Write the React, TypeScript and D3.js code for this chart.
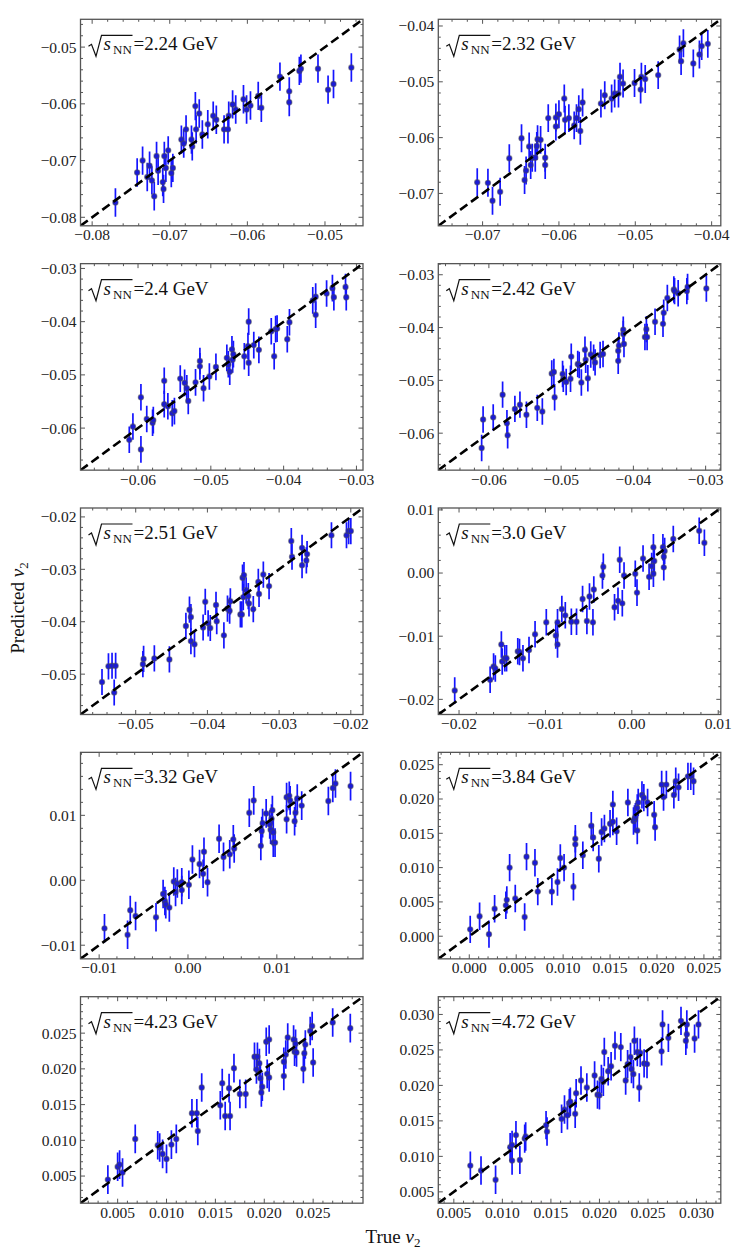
import * as d3 from 'd3'

// sqrt(s_NN) of each panel, read left-to-right, top-to-bottom
const energies = ['2.24', '2.32', '2.4', '2.42', '2.51', '3.0', '3.32', '3.84', '4.23', '4.72']

// shared x/y limits of each panel (the y = x line runs corner to corner)
const axisLimits: [number, number][] = [
  [-0.0815, -0.0451], [-0.0758, -0.0388], [-0.0679, -0.0291], [-0.067, -0.0279], [-0.0577, -0.0183],
  [-0.0224, 0.0103], [-0.0121, 0.0197], [-0.0033, 0.0268], [0.0012, 0.0301], [0.0034, 0.0325],
]

const tickValues: number[][] = [
  [-0.08, -0.07, -0.06, -0.05],
  [-0.07, -0.06, -0.05, -0.04],
  [-0.06, -0.05, -0.04, -0.03],
  [-0.06, -0.05, -0.04, -0.03],
  [-0.05, -0.04, -0.03, -0.02],
  [-0.02, -0.01, 0, 0.01],
  [-0.01, 0, 0.01],
  [0, 0.005, 0.01, 0.015, 0.02, 0.025],
  [0.005, 0.01, 0.015, 0.02, 0.025],
  [0.005, 0.01, 0.015, 0.02, 0.025, 0.03],
]
const tickStep = [0.01, 0.01, 0.01, 0.01, 0.01, 0.01, 0.01, 0.005, 0.005, 0.005]

// half-length of the error bars per panel
const yErr = [0.0025, 0.0025, 0.0025, 0.0025, 0.0025, 0.0021, 0.0022, 0.002, 0.002, 0.002]

const true224 = [-0.077, -0.0742, -0.0735, -0.0729, -0.0726, -0.0723, -0.072, -0.0717, -0.0715, -0.0709, -0.0708, -0.0707, -0.0705, -0.0702, -0.0698, -0.0696, -0.0685, -0.0682, -0.0679, -0.0667, -0.0666, -0.0662, -0.0672, -0.0671, -0.0658, -0.0651, -0.0644, -0.064, -0.063, -0.0625, -0.0624, -0.0619, -0.0615, -0.0605, -0.0601, -0.0596, -0.0586, -0.0582, -0.0558, -0.0546, -0.0546, -0.0533, -0.0531, -0.0509, -0.0496, -0.0489, -0.0466]
const pred224 = [-0.0774, -0.0721, -0.07, -0.0729, -0.0709, -0.0735, -0.0763, -0.0692, -0.0718, -0.0738, -0.075, -0.0692, -0.0713, -0.0682, -0.0722, -0.0713, -0.0663, -0.067, -0.0645, -0.0604, -0.0645, -0.0617, -0.0663, -0.0675, -0.0654, -0.0636, -0.0621, -0.0628, -0.0645, -0.0645, -0.0621, -0.0601, -0.061, -0.0592, -0.061, -0.0603, -0.0586, -0.0607, -0.0552, -0.0578, -0.0597, -0.0542, -0.0538, -0.0538, -0.0575, -0.0565, -0.0536]

const true232 = [-0.0707, -0.0693, -0.0687, -0.0677, -0.0665, -0.0649, -0.0645, -0.0643, -0.0639, -0.0637, -0.0635, -0.0631, -0.0629, -0.0628, -0.0624, -0.0618, -0.0618, -0.0614, -0.0604, -0.0604, -0.06, -0.0593, -0.0592, -0.0587, -0.058, -0.0577, -0.0574, -0.0572, -0.0569, -0.0545, -0.054, -0.0531, -0.0527, -0.0522, -0.052, -0.0516, -0.0501, -0.0493, -0.0492, -0.0487, -0.047, -0.0442, -0.044, -0.0437, -0.0424, -0.0416, -0.0413, -0.0405]
const pred232 = [-0.068, -0.0681, -0.0713, -0.0697, -0.0637, -0.0601, -0.0676, -0.0659, -0.0616, -0.0649, -0.0636, -0.0636, -0.0615, -0.0603, -0.0604, -0.0636, -0.0649, -0.0565, -0.0564, -0.058, -0.0558, -0.053, -0.0568, -0.0565, -0.0578, -0.0565, -0.0549, -0.0588, -0.0537, -0.0539, -0.0524, -0.053, -0.0521, -0.0521, -0.0491, -0.0503, -0.0502, -0.0514, -0.0491, -0.0495, -0.0488, -0.0442, -0.0463, -0.0431, -0.0467, -0.0451, -0.0436, -0.0432]

const true240 = [-0.0612, -0.0607, -0.0596, -0.0596, -0.0588, -0.058, -0.0579, -0.0564, -0.0564, -0.0559, -0.0553, -0.055, -0.0542, -0.0536, -0.0533, -0.0531, -0.0521, -0.0515, -0.0515, -0.051, -0.0502, -0.0493, -0.0478, -0.0476, -0.0474, -0.0471, -0.047, -0.0469, -0.0454, -0.0449, -0.0448, -0.0448, -0.0441, -0.0434, -0.0417, -0.0413, -0.0411, -0.0409, -0.0395, -0.0392, -0.036, -0.0356, -0.0356, -0.0341, -0.0333, -0.0331, -0.0315, -0.0314]
const pred240 = [-0.0622, -0.0597, -0.0542, -0.064, -0.0583, -0.059, -0.0585, -0.0511, -0.0555, -0.0559, -0.0572, -0.0568, -0.0507, -0.0515, -0.0525, -0.0549, -0.0514, -0.0484, -0.0474, -0.0525, -0.0503, -0.0485, -0.0468, -0.048, -0.0494, -0.0452, -0.0471, -0.0461, -0.0465, -0.0446, -0.04, -0.0477, -0.0444, -0.0453, -0.0418, -0.0465, -0.0414, -0.0413, -0.0433, -0.0401, -0.036, -0.0387, -0.0353, -0.0347, -0.0337, -0.0354, -0.0335, -0.0354]

const true242 = [-0.061, -0.0608, -0.0594, -0.0581, -0.0575, -0.0574, -0.0564, -0.0557, -0.0548, -0.0533, -0.0526, -0.0513, -0.051, -0.0509, -0.0498, -0.0497, -0.0493, -0.0487, -0.0486, -0.0477, -0.0475, -0.0472, -0.0467, -0.0466, -0.0463, -0.0459, -0.0455, -0.0453, -0.0446, -0.0442, -0.0421, -0.0421, -0.042, -0.0414, -0.0414, -0.0413, -0.0384, -0.0382, -0.0381, -0.037, -0.0359, -0.0358, -0.0353, -0.0344, -0.0343, -0.0338, -0.0326, -0.0325, -0.0299]
const pred242 = [-0.0628, -0.0574, -0.057, -0.0527, -0.0581, -0.0604, -0.0554, -0.0546, -0.0565, -0.0552, -0.0559, -0.0487, -0.0484, -0.0532, -0.0488, -0.0497, -0.0503, -0.0497, -0.0455, -0.0469, -0.0471, -0.0504, -0.0442, -0.0461, -0.0496, -0.0451, -0.0457, -0.0466, -0.0452, -0.045, -0.0444, -0.0463, -0.0434, -0.0404, -0.0412, -0.0431, -0.0418, -0.0403, -0.0418, -0.0389, -0.0393, -0.0372, -0.0344, -0.0328, -0.0331, -0.0335, -0.0331, -0.0323, -0.0326]

const true251 = [-0.0547, -0.0538, -0.0533, -0.053, -0.0528, -0.049, -0.0489, -0.0474, -0.0453, -0.043, -0.0425, -0.0423, -0.0423, -0.0418, -0.0406, -0.0403, -0.0399, -0.0396, -0.0388, -0.0387, -0.0377, -0.0372, -0.0369, -0.0368, -0.0354, -0.0352, -0.0351, -0.035, -0.0349, -0.0346, -0.0343, -0.0342, -0.0336, -0.0329, -0.0328, -0.0322, -0.0314, -0.0283, -0.0282, -0.0268, -0.0268, -0.0262, -0.0261, -0.0227, -0.0206, -0.0203, -0.02]
const pred251 = [-0.0515, -0.0485, -0.0484, -0.0535, -0.0484, -0.0481, -0.0471, -0.047, -0.0472, -0.0408, -0.0377, -0.0391, -0.0437, -0.0443, -0.0411, -0.0362, -0.0403, -0.0412, -0.0368, -0.0399, -0.0426, -0.0375, -0.0379, -0.0361, -0.0386, -0.0386, -0.0316, -0.0353, -0.0311, -0.034, -0.0351, -0.0365, -0.0376, -0.0324, -0.0347, -0.031, -0.0332, -0.0246, -0.0276, -0.0259, -0.0292, -0.0283, -0.0271, -0.0235, -0.0235, -0.0227, -0.0227]

const true300 = [-0.0205, -0.0164, -0.016, -0.0158, -0.0151, -0.015, -0.0147, -0.0145, -0.0132, -0.013, -0.0126, -0.0119, -0.0112, -0.0099, -0.0088, -0.0086, -0.0086, -0.0081, -0.0077, -0.007, -0.0064, -0.0057, -0.0052, -0.0049, -0.0045, -0.0044, -0.0034, -0.0033, -0.002, -0.0016, -0.0014, -0.0011, -0.0009, 0.0004, 0.0006, 0.0013, 0.002, 0.0023, 0.0025, 0.0025, 0.0026, 0.0036, 0.0037, 0.0037, 0.0038, 0.0048, 0.0078, 0.0084]
const pred300 = [-0.0186, -0.0169, -0.0148, -0.0151, -0.0113, -0.014, -0.0135, -0.0135, -0.0124, -0.0125, -0.0135, -0.0122, -0.0097, -0.0078, -0.0099, -0.0078, -0.0113, -0.0057, -0.0067, -0.0077, -0.0077, -0.0041, -0.0076, -0.0037, -0.0078, -0.0026, -0.0004, 0.001, -0.0054, -0.0044, 0.0021, -0.0048, -0.0004, -0.0001, -0.0031, 0.0023, -0.0006, 0.0011, 0.0041, -0.0001, 0.0019, 0.0041, 0.0009, 0.0026, 0.0035, 0.0054, 0.0067, 0.0048]

const true332 = [-0.0094, -0.0068, -0.0065, -0.0059, -0.0036, -0.0028, -0.0026, -0.0025, -0.0021, -0.0016, -0.0014, -0.0012, -0.0007, -0.0007, 0.0001, 0.0005, 0.0013, 0.0017, 0.0018, 0.0022, 0.0035, 0.004, 0.0047, 0.0051, 0.0052, 0.0069, 0.0074, 0.0082, 0.0083, 0.0084, 0.0088, 0.0092, 0.0093, 0.0094, 0.0095, 0.0096, 0.0096, 0.0098, 0.0111, 0.0111, 0.0114, 0.0115, 0.012, 0.0121, 0.0123, 0.0128, 0.0158, 0.0163, 0.0166, 0.0183]
const pred332 = [-0.0074, -0.0084, -0.0046, -0.0055, -0.0057, -0.0021, -0.0032, -0.0037, -0.0042, -0.0002, -0.0018, -0.0005, -0.0003, -0.0015, -0.0007, 0.0032, 0.0025, 0.001, 0.0044, -0.0003, 0.0064, 0.0036, 0.004, 0.0063, 0.0049, 0.0104, 0.0123, 0.0053, 0.0076, 0.0088, 0.0103, 0.0086, 0.0078, 0.0095, 0.0108, 0.0074, 0.0058, 0.0058, 0.0094, 0.0128, 0.013, 0.0123, 0.0091, 0.0104, 0.0126, 0.0115, 0.0122, 0.0142, 0.0149, 0.0145]

const true384 = [0.0001, 0.0011, 0.0021, 0.0027, 0.0039, 0.004, 0.0043, 0.0049, 0.0059, 0.0061, 0.007, 0.0073, 0.0088, 0.0094, 0.0097, 0.0101, 0.0111, 0.0113, 0.0113, 0.0121, 0.013, 0.0132, 0.0138, 0.0141, 0.0144, 0.015, 0.0153, 0.0153, 0.0157, 0.0169, 0.0175, 0.0176, 0.0177, 0.0179, 0.0179, 0.018, 0.0184, 0.0186, 0.019, 0.0197, 0.0198, 0.0205, 0.0207, 0.021, 0.0218, 0.022, 0.0223, 0.0233, 0.0236, 0.0239]
const pred384 = [0.001, 0.0029, 0.0003, 0.004, 0.0045, 0.0053, 0.01, 0.0055, 0.0028, 0.0116, 0.0107, 0.0065, 0.0065, 0.0079, 0.0114, 0.01, 0.0072, 0.0142, 0.0134, 0.0118, 0.0161, 0.0144, 0.0113, 0.0152, 0.0157, 0.0164, 0.0167, 0.0192, 0.0153, 0.0195, 0.0168, 0.0171, 0.0174, 0.0187, 0.0154, 0.0195, 0.0206, 0.0202, 0.0195, 0.0177, 0.0159, 0.0221, 0.0203, 0.0221, 0.0206, 0.0226, 0.0217, 0.0233, 0.0233, 0.0226]

const true423 = [0.004, 0.005, 0.0052, 0.0055, 0.0068, 0.0091, 0.0093, 0.0096, 0.01, 0.0105, 0.011, 0.0126, 0.0131, 0.0132, 0.0136, 0.0155, 0.0157, 0.016, 0.0164, 0.0165, 0.0169, 0.0175, 0.0181, 0.019, 0.0192, 0.0193, 0.0195, 0.0196, 0.0197, 0.0198, 0.0202, 0.0203, 0.0205, 0.0205, 0.022, 0.022, 0.0222, 0.0224, 0.023, 0.0231, 0.0232, 0.0233, 0.024, 0.0241, 0.0242, 0.0247, 0.0249, 0.025, 0.027, 0.0288]
const pred423 = [0.0045, 0.0063, 0.0066, 0.0055, 0.0102, 0.0093, 0.009, 0.0081, 0.0074, 0.0094, 0.0102, 0.0138, 0.0138, 0.0113, 0.0174, 0.0149, 0.018, 0.0134, 0.0173, 0.0134, 0.0201, 0.0165, 0.0165, 0.0217, 0.0199, 0.0217, 0.0208, 0.0187, 0.0167, 0.0175, 0.0238, 0.0193, 0.0188, 0.0241, 0.021, 0.019, 0.022, 0.0244, 0.0241, 0.0224, 0.0235, 0.0223, 0.02, 0.0222, 0.0234, 0.0253, 0.026, 0.0209, 0.0265, 0.0257]

const true472 = [0.0067, 0.0078, 0.0093, 0.0108, 0.011, 0.011, 0.0114, 0.0118, 0.0123, 0.0124, 0.0145, 0.0146, 0.0161, 0.0164, 0.0167, 0.0169, 0.017, 0.0175, 0.0176, 0.0181, 0.0187, 0.0195, 0.0198, 0.02, 0.0202, 0.0204, 0.0205, 0.0209, 0.0212, 0.0216, 0.0222, 0.0227, 0.0229, 0.0232, 0.0233, 0.0235, 0.0236, 0.0239, 0.0241, 0.0242, 0.0246, 0.0249, 0.0264, 0.0265, 0.0271, 0.0284, 0.0289, 0.029, 0.029, 0.0298, 0.0302]
const pred472 = [0.0087, 0.008, 0.0067, 0.0113, 0.0094, 0.0116, 0.013, 0.0095, 0.0125, 0.0128, 0.0144, 0.0135, 0.0153, 0.0166, 0.0158, 0.0175, 0.0177, 0.016, 0.0189, 0.0207, 0.0197, 0.0214, 0.0187, 0.0186, 0.0209, 0.0205, 0.0247, 0.022, 0.0227, 0.0256, 0.0254, 0.0207, 0.023, 0.024, 0.0223, 0.0216, 0.0263, 0.0247, 0.0197, 0.0246, 0.0231, 0.023, 0.0248, 0.0286, 0.0267, 0.0291, 0.0263, 0.0272, 0.0286, 0.0266, 0.0286]

const trueSets = [true224, true232, true240, true242, true251, true300, true332, true384, true423, true472]
const predSets = [pred224, pred232, pred240, pred242, pred251, pred300, pred332, pred384, pred423, pred472]

const W = 755
const H = 1253
const COL_X = [80.5, 438.3]
const PANEL_W = 282.5
const ROW_TOP = 19.3
const ROW_STEP = 244.35
const PANEL_H = 206.5
const FONT = "'Liberation Serif', 'Times New Roman', serif"
const FRAME = '#555'

const Panel = ({ i }: { i: number }) => {
  const left = COL_X[i % 2]
  const top = ROW_TOP + Math.floor(i / 2) * ROW_STEP
  const lim = axisLimits[i]
  const x = d3.scaleLinear().domain(lim).range([left, left + PANEL_W])
  const y = d3.scaleLinear().domain(lim).range([top + PANEL_H, top])
  const bottom = top + PANEL_H
  const right = left + PANEL_W

  const step = tickStep[i]
  const fmt = d3.format(step < 0.01 ? '.3f' : '.2f')
  const m = step / 5
  const minor = d3
    .range(Math.ceil(lim[0] / m - 1e-9), Math.floor(lim[1] / m + 1e-9) + 1)
    .filter((k) => k % 5 !== 0)
    .map((k) => k * m)
  const major = tickValues[i]

  const xs = trueSets[i]
  const ys = predSets[i]
  const err = yErr[i]
  const clipId = `clip-${i}`

  const tx = left + 8
  const ty = top + 31

  return (
    <g>
      <defs>
        <clipPath id={clipId}>
          <rect x={left} y={top} width={PANEL_W} height={PANEL_H} />
        </clipPath>
      </defs>

      {/* ticks, inward on all four sides */}
      <g stroke={FRAME} strokeWidth={1}>
        {major.map((t) => (
          <g key={`M${t}`}>
            <line x1={x(t)} x2={x(t)} y1={bottom} y2={bottom - 4.5} />
            <line x1={x(t)} x2={x(t)} y1={top} y2={top + 4.5} />
            <line x1={left} x2={left + 4.5} y1={y(t)} y2={y(t)} />
            <line x1={right} x2={right - 4.5} y1={y(t)} y2={y(t)} />
          </g>
        ))}
        {minor.map((t) => (
          <g key={`m${t}`}>
            <line x1={x(t)} x2={x(t)} y1={bottom} y2={bottom - 2.5} />
            <line x1={x(t)} x2={x(t)} y1={top} y2={top + 2.5} />
            <line x1={left} x2={left + 2.5} y1={y(t)} y2={y(t)} />
            <line x1={right} x2={right - 2.5} y1={y(t)} y2={y(t)} />
          </g>
        ))}
      </g>

      <g style={{ fontFamily: FONT }} fontSize={15.5} fill="#222">
        {major.map((t) => (
          <text key={`xl${t}`} x={x(t)} y={bottom + 14.5} textAnchor="middle">
            {fmt(t)}
          </text>
        ))}
        {major.map((t) => (
          <text key={`yl${t}`} x={left - 4} y={y(t)} dy="0.35em" textAnchor="end">
            {fmt(t)}
          </text>
        ))}
      </g>

      <g clipPath={`url(#${clipId})`}>
        <g stroke="#1414ff" strokeWidth={1.7}>
          {xs.map((v, k) => (
            <line key={k} x1={x(v)} x2={x(v)} y1={y(ys[k] - err)} y2={y(ys[k] + err)} />
          ))}
        </g>
        <g fill="#1a1ad8" stroke="rgba(70,70,90,0.55)" strokeWidth={1.2}>
          {xs.map((v, k) => (
            <circle key={k} cx={x(v)} cy={y(ys[k])} r={2.6} />
          ))}
        </g>
        <line
          x1={x(lim[0])}
          y1={y(lim[0])}
          x2={x(lim[1])}
          y2={y(lim[1])}
          stroke="#000"
          strokeWidth={2.6}
          strokeDasharray="9,4.5"
        />
      </g>

      <rect x={left} y={top} width={PANEL_W} height={PANEL_H} fill="none" stroke={FRAME} strokeWidth={1.3} />

      {/* sqrt(s_NN) label */}
      <path
        d={`M${tx},${ty - 4} L${tx + 3},${ty - 6} L${tx + 7.5},${ty + 6} L${tx + 13},${ty - 15} L${tx + 44},${ty - 15}`}
        fill="none"
        stroke="#111"
        strokeWidth={1.2}
      />
      <text x={tx + 15} y={ty} style={{ fontFamily: FONT }} fontSize={19} fill="#111">
        <tspan fontStyle="italic">s</tspan>
        <tspan x={tx + 24.5} dy={4} fontSize={13}>NN</tspan>
        <tspan x={tx + 45} dy={-4}>={energies[i]} GeV</tspan>
      </text>
    </g>
  )
}

export default function App() {
  return (
    <svg
      width={W}
      height={H}
      viewBox={`0 0 ${W} ${H}`}
      style={{ position: 'absolute', left: 0, top: 0, background: '#fff' }}
    >
      {energies.map((_, i) => (
        <Panel key={i} i={i} />
      ))}
      <text
        transform="translate(24,608) rotate(-90)"
        textAnchor="middle"
        style={{ fontFamily: FONT }}
        fontSize={19}
        fill="#111"
      >
        Predicted <tspan fontStyle="italic">v</tspan>
        <tspan fontSize={13} dy={4}>2</tspan>
      </text>
      <text x={393} y={1243} textAnchor="middle" style={{ fontFamily: FONT }} fontSize={19} fill="#111">
        True <tspan fontStyle="italic">v</tspan>
        <tspan fontSize={13} dy={4}>2</tspan>
      </text>
    </svg>
  )
}
